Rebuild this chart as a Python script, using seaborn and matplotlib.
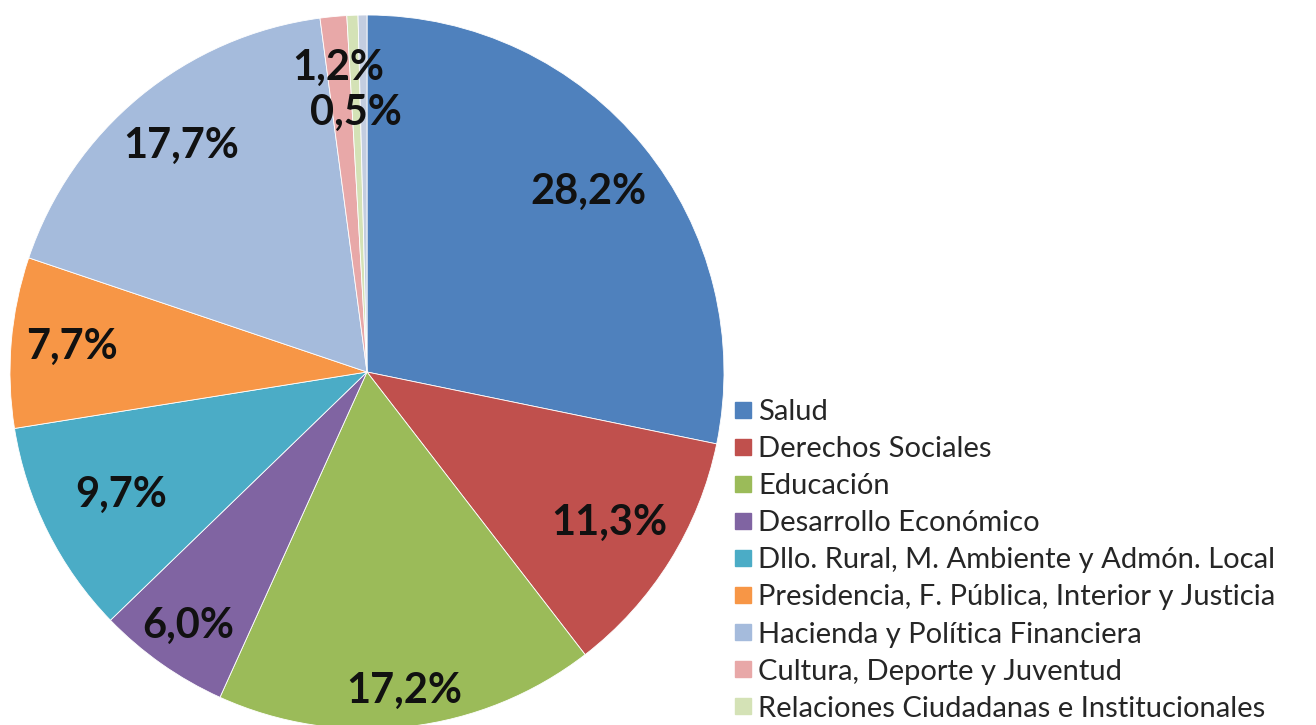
import numpy as np
import matplotlib
matplotlib.use("Agg")
import matplotlib.pyplot as plt
import seaborn as sns
from matplotlib.lines import Line2D

categories = [
    "Salud",
    "Derechos Sociales",
    "Educación",
    "Desarrollo Económico",
    "Dllo. Rural, M. Ambiente y Admón. Local",
    "Presidencia, F. Pública, Interior y Justicia",
    "Hacienda y Política Financiera",
    "Cultura, Deporte y Juventud",
    "Relaciones Ciudadanas e Institucionales",
]
shares = [28.2, 11.3, 17.2, 6.0, 9.7, 7.7, 17.7, 1.2, 0.5]
# thin unlabeled sliver visible at the top of the pie (not in legend)
remainder = [0.4]
pct_labels = ["28,2%", "11,3%", "17,2%", "6,0%", "9,7%", "7,7%", "17,7%", "1,2%", "0,5%"]

colors = ["#4F81BD", "#C0504D", "#9BBB59", "#8064A2", "#4BACC6",
          "#F79646", "#A5BBDC", "#E8A8A8", "#D4E2B6"]
rest_color = "#C3CDE0"
label_dist = [0.80, 0.80, 0.90, 0.87, 0.77, 0.83, 0.82, 0.855, 0.725]

sns.set_theme(style="white")
plt.rcParams["font.family"] = ["Lato", "DejaVu Sans"]

fig = plt.figure(figsize=(13.16, 7.25), dpi=100)
R = 357
cx, cy = 367, 725 - 372
ax = fig.add_axes([(cx - R) / 1316, (cy - R) / 725, 2 * R / 1316, 2 * R / 725])

values = shares + remainder
wedges, _ = ax.pie(values, colors=colors + [rest_color], startangle=90, counterclock=False,
                   wedgeprops=dict(edgecolor="white", linewidth=0.6))
ax.set_xlim(-1, 1)
ax.set_ylim(-1, 1)
ax.set_aspect("equal")
ax.axis("off")

for w, lab, d in zip(wedges, pct_labels, label_dist):
    ang = np.deg2rad((w.theta1 + w.theta2) / 2)
    ax.text(d * np.cos(ang), d * np.sin(ang), lab, ha="center", va="center",
            fontsize=30, fontweight="bold", color="#111111")

handles = [Line2D([0], [0], marker="s", linestyle="", markersize=11,
                  markerfacecolor=c, markeredgecolor=c) for c in colors]
fig.legend(handles, categories, loc="upper left", bbox_to_anchor=(735 / 1316, 1 - 399 / 725),
           frameon=False, fontsize=21, handlelength=0.55, handletextpad=0.25,
           labelspacing=0.38, borderaxespad=0, borderpad=0)

fig.savefig("out.png", dpi=100)
